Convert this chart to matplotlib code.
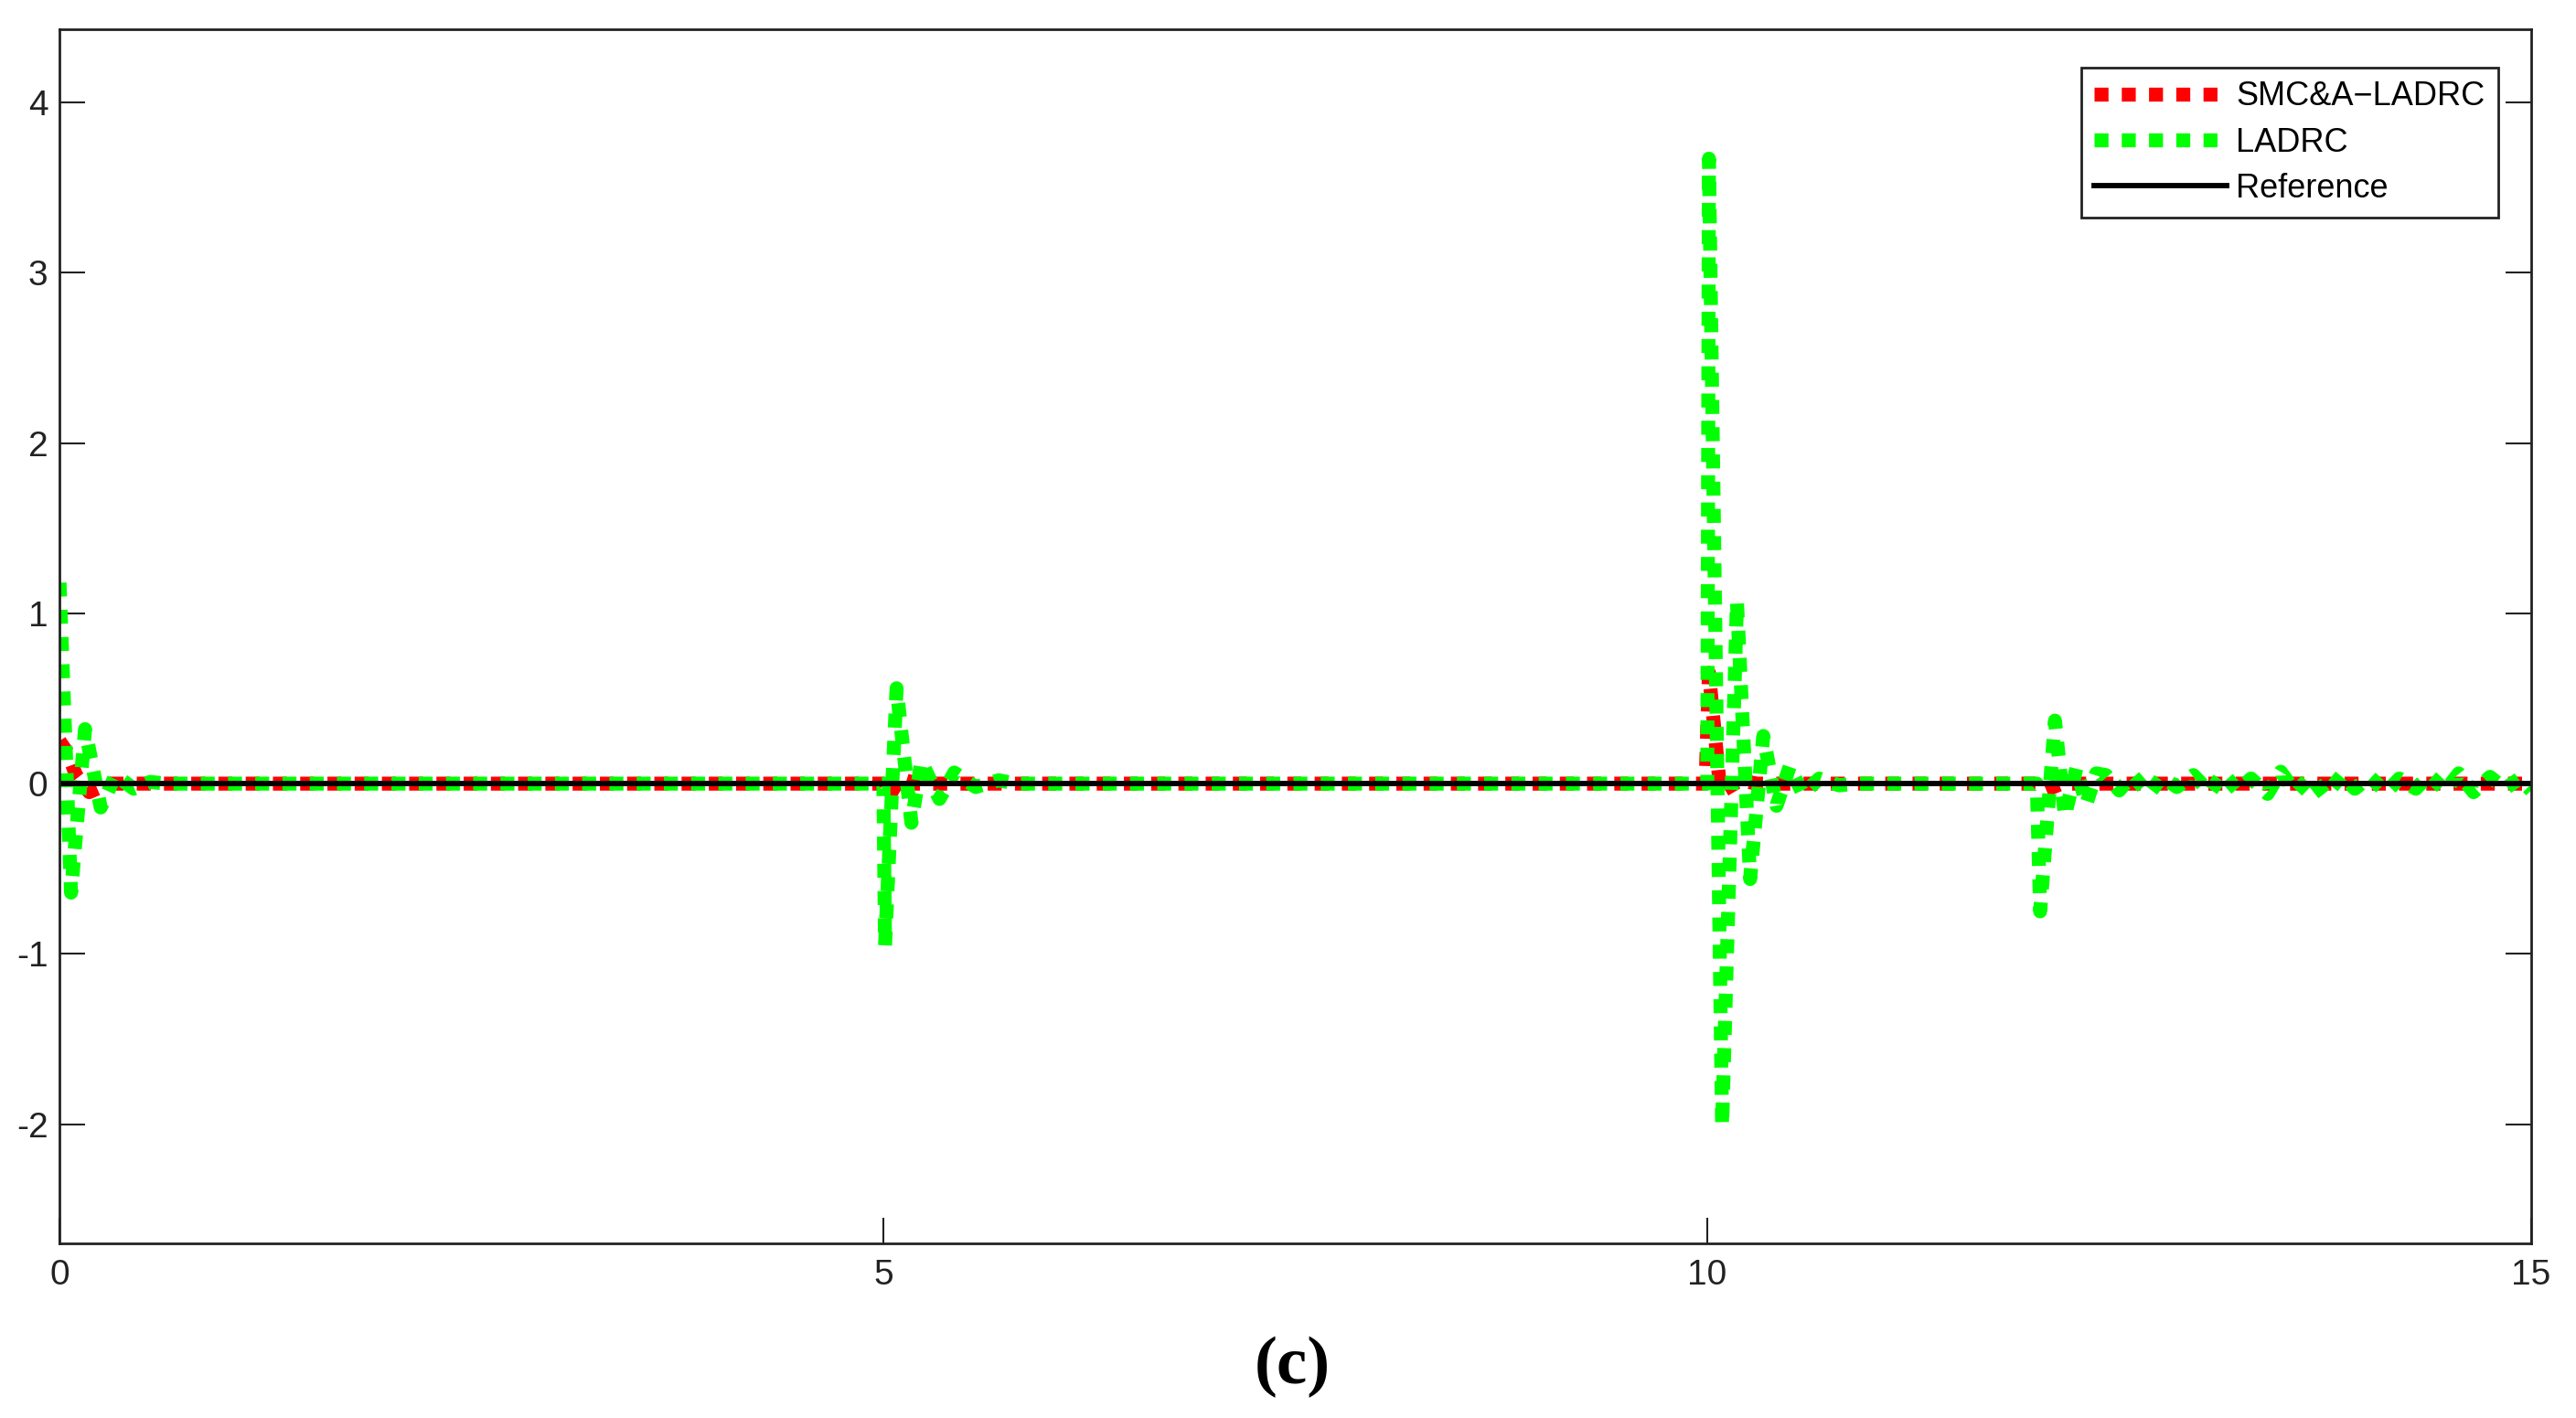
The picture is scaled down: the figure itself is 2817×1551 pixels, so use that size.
import numpy as np
import matplotlib
matplotlib.use("Agg")
import matplotlib.pyplot as plt

plt.rcParams['font.family'] = ['Liberation Sans', 'DejaVu Sans']
plt.rcParams['axes.unicode_minus'] = False

# LADRC response
t_ladrc = [0.0, 0.07, 0.155, 0.25, 0.34, 0.45, 0.55, 0.65,
           5.0, 5.01, 5.08, 5.17, 5.23, 5.34, 5.43, 5.56, 5.7, 5.8,
           10.0, 10.01, 10.09, 10.18, 10.26, 10.34, 10.42, 10.5, 10.58, 10.68, 10.8, 10.9,
           12.0, 12.02, 12.11, 12.17, 12.24, 12.3, 12.36,
           12.42, 12.5, 12.58, 12.68, 12.76, 12.85, 12.95, 13.05, 13.13, 13.22,
           13.3, 13.4, 13.48, 13.57, 13.66, 13.75, 13.85, 13.93, 14.02, 14.12,
           14.2, 14.3, 14.38, 14.48, 14.56, 14.65, 14.75, 14.84, 14.93, 15.0]
y_ladrc = [1.18, -0.64, 0.32, -0.14, 0.05, -0.03, 0.01, 0.0,
           0.0, -0.95, 0.56, -0.23, 0.13, -0.09, 0.065, -0.02, 0.02, 0.0,
           0.0, 3.67, -2.01, 1.07, -0.56, 0.28, -0.13, 0.1, -0.06, 0.03, -0.01, 0.0,
           0.0, -0.75, 0.37, -0.19, 0.09, -0.12, 0.06,
           0.05, -0.04, 0.05, -0.06, 0.04, -0.02, 0.05, -0.05, 0.06, -0.04,
           0.03, -0.06, 0.07, -0.05, 0.04, -0.07, 0.05, -0.03, 0.04, -0.05,
           0.03, -0.03, 0.05, -0.04, 0.06, -0.05, 0.04, -0.03, 0.03, -0.04]

# SMC&A-LADRC response
t_smc = [0.0, 0.05, 0.1, 0.18, 0.3, 5.0, 5.03, 5.1, 5.2, 9.99, 10.01, 10.08, 10.2, 10.3, 12.0, 12.05, 12.15, 15.0]
y_smc = [0.25, 0.18, 0.05, -0.05, 0.0, 0.0, -0.08, 0.03, 0.0, 0.0, 0.65, -0.05, 0.02, 0.0, 0.0, -0.04, 0.0, 0.0]

t_ref = [0, 15]
y_ref = [0, 0]

fig = plt.figure(figsize=(28.17, 15.51), dpi=100)
ax = fig.add_axes([0.0231, 0.1231, 0.9595, 0.8563])

dots = (0, (1, 0.95))
ax.plot(t_smc, y_smc, color=(1, 0, 0), lw=11, linestyle=dots,
        dash_capstyle='butt', label='SMC&A\u2212LADRC')
ax.plot(t_ladrc, y_ladrc, color=(0, 1, 0), lw=11, linestyle=dots,
        dash_capstyle='butt', label='LADRC')
ax.plot(t_ref, y_ref, color='black', lw=4.2, label='Reference')

ax.set_xlim(0, 15)
ax.set_ylim(-2.7, 4.43)
ax.set_xticks([0, 5, 10, 15])
ax.set_yticks([-2, -1, 0, 1, 2, 3, 4])
ax.tick_params(direction='in', length=20, width=1.5, labelsize=28,
               right=True, top=False, colors='#222222')
ax.tick_params(axis='x', pad=12)
ax.tick_params(axis='y', pad=9)
for s in ax.spines.values():
    s.set_linewidth(2.0)
    s.set_color('#222222')

leg = ax.legend(loc='upper right', bbox_to_anchor=(0.9867, 0.9684), borderaxespad=0,
                fontsize=26, handlelength=4.0, handletextpad=0.3, labelspacing=0.42,
                borderpad=0.4, fancybox=False, framealpha=1)
leg.get_frame().set_edgecolor('#222222')
leg.get_frame().set_linewidth(2.0)

fig.text(0.5016, 0.036, '(c)', family=['Liberation Serif', 'DejaVu Serif'],
         fontweight='bold', fontsize=54, ha='center', va='center')

fig.savefig('out.png', dpi=100)
